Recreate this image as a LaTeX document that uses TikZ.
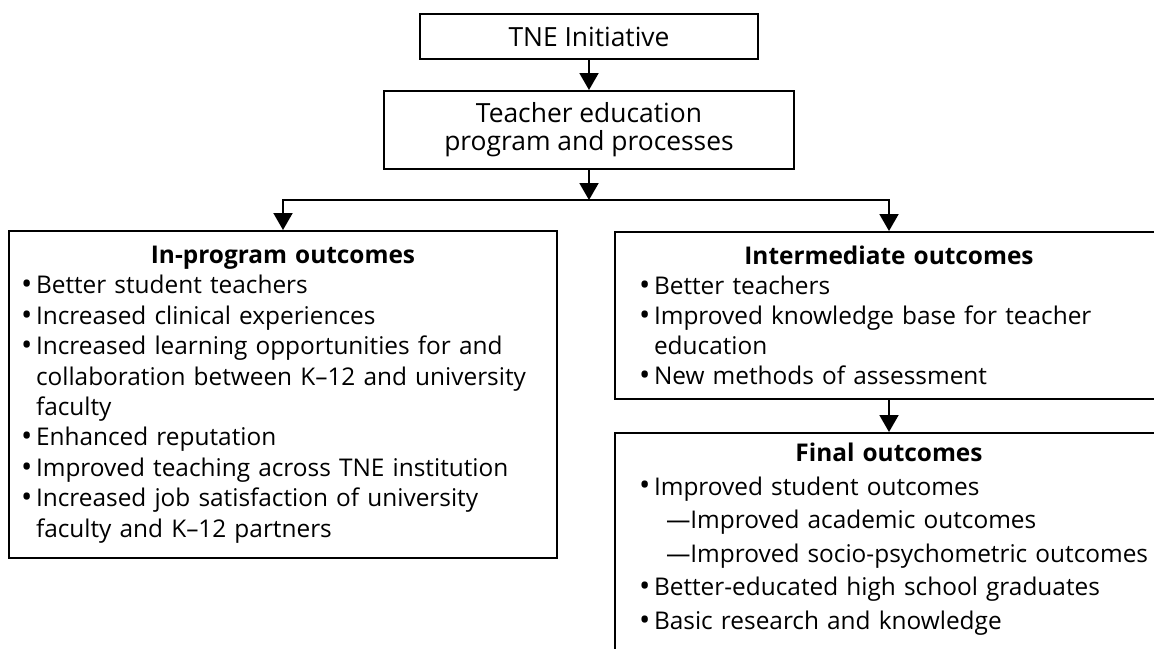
\documentclass[tikz,border=0pt]{standalone}
\usepackage{fontspec}
\setmainfont{Open Sans}
\usetikzlibrary{arrows.meta, positioning}

\newlength{\bulw}
\setlength{\bulw}{7.5pt}
% bullet line with hanging indent
\newcommand{\bul}{\par\noindent\hangindent=\bulw\hangafter=1\makebox[\bulw][l]{\raisebox{-0.4pt}{\fontsize{15}{15}\selectfont\textbullet}}}
% dashed sub-line under a bullet, kept on one line
\newcommand{\dashitem}[1]{\par\noindent\hspace*{\bulw}\hspace*{6pt}\mbox{---#1}}

\begin{document}
\begin{tikzpicture}[x=0.5pt, y=-0.5pt, node distance=15pt,
  box/.style={draw, line width=1pt, font=\fontsize{13.2}{14}\selectfont},
  outcome/.style={box, anchor=north west, align=left, inner ysep=5pt, minimum width=274pt},
  flow/.style={line width=1pt, -{Triangle[width=9.5pt, length=8.5pt]}}]
\useasboundingbox (0,0) rectangle (1154,648);
\clip (0,0) rectangle (1154,648);

% Nodes
\node[box, minimum width=169pt, minimum height=22.5pt] (tne) at (589,36.5) {TNE Initiative};

\node[box, below=of tne, minimum width=205pt, minimum height=39pt, align=center] (teach) {Teacher education\\program and processes};

\coordinate[below=of teach] (split);

\node[outcome, inner xsep=6pt, text width=262pt, minimum height=163.5pt, font=\fontsize{12.2}{15.2}\selectfont] (inprog) at (8,230) {%
  {\centering\bfseries In-program outcomes\par}
  \bul Better student teachers
  \bul Increased clinical experiences
  \bul Increased learning opportunities for and\newline collaboration between K--12 and university\newline faculty
  \bul Enhanced reputation
  \bul Improved teaching across TNE institution
  \bul Increased job satisfaction of university\newline faculty and K--12 partners\par};

\node[outcome, inner xsep=12pt, text width=250pt, minimum height=83.5pt, font=\fontsize{12.2}{15}\selectfont] (inter) at (614,231) {%
  {\centering\bfseries Intermediate outcomes\par}
  \bul Better teachers
  \bul Improved knowledge base for teacher\newline education
  \bul New methods of assessment\par};

\node[outcome, below=16pt of inter, inner xsep=12pt, text width=250pt, text depth=110pt, font=\fontsize{12.2}{16.8}\selectfont] (final) {%
  {\centering\bfseries Final outcomes\par}
  \bul Improved student outcomes
  \dashitem{Improved academic outcomes}
  \dashitem{Improved socio-psychometric outcomes}
  \bul Better-educated high school graduates
  \bul Basic research and knowledge\par};

% Arrows
\draw[flow] (tne) -- (teach);
\draw[flow] (teach) -- (split);
\draw[flow] (split) -| (inprog.north);
\draw[flow] (split) -| (inter.north);
\draw[flow] (inter) -- (final);

\end{tikzpicture}
\end{document}
